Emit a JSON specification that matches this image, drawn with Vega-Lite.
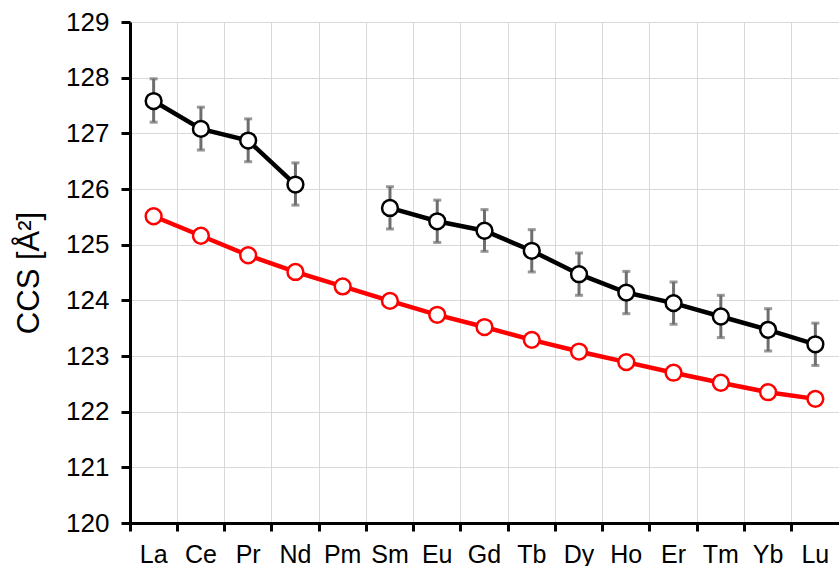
{
  "$schema": "https://vega.github.io/schema/vega-lite/v6.json",
  "width": 709,
  "height": 501,
  "autosize": "none",
  "padding": {"left": 130, "top": 22, "right": 0, "bottom": 43},
  "background": "white",
  "config": {
    "view": {"stroke": null},
    "axis": {
      "labelFont": "Liberation Sans",
      "titleFont": "Liberation Sans",
      "labelColor": "black",
      "titleColor": "black",
      "domainColor": "black",
      "domainWidth": 3,
      "tickColor": "black",
      "tickWidth": 3,
      "gridColor": "#d9d9d9",
      "gridWidth": 1
    }
  },
  "data": {
    "values": [
      {"el": "La", "series": "exp", "seg": "a", "v": 127.58, "lo": 127.2, "hi": 127.98},
      {"el": "Ce", "series": "exp", "seg": "a", "v": 127.08, "lo": 126.7, "hi": 127.47},
      {"el": "Pr", "series": "exp", "seg": "a", "v": 126.87, "lo": 126.49, "hi": 127.26},
      {"el": "Nd", "series": "exp", "seg": "a", "v": 126.08, "lo": 125.71, "hi": 126.47},
      {"el": "Sm", "series": "exp", "seg": "b", "v": 125.66, "lo": 125.28, "hi": 126.04},
      {"el": "Eu", "series": "exp", "seg": "b", "v": 125.42, "lo": 125.04, "hi": 125.8},
      {"el": "Gd", "series": "exp", "seg": "b", "v": 125.25, "lo": 124.88, "hi": 125.63},
      {"el": "Tb", "series": "exp", "seg": "b", "v": 124.89, "lo": 124.51, "hi": 125.27},
      {"el": "Dy", "series": "exp", "seg": "b", "v": 124.47, "lo": 124.09, "hi": 124.85},
      {"el": "Ho", "series": "exp", "seg": "b", "v": 124.14, "lo": 123.76, "hi": 124.52},
      {"el": "Er", "series": "exp", "seg": "b", "v": 123.95, "lo": 123.57, "hi": 124.33},
      {"el": "Tm", "series": "exp", "seg": "b", "v": 123.71, "lo": 123.33, "hi": 124.09},
      {"el": "Yb", "series": "exp", "seg": "b", "v": 123.47, "lo": 123.09, "hi": 123.85},
      {"el": "Lu", "series": "exp", "seg": "b", "v": 123.21, "lo": 122.83, "hi": 123.59},
      {"el": "La", "series": "calc", "seg": "c", "v": 125.51},
      {"el": "Ce", "series": "calc", "seg": "c", "v": 125.16},
      {"el": "Pr", "series": "calc", "seg": "c", "v": 124.81},
      {"el": "Nd", "series": "calc", "seg": "c", "v": 124.51},
      {"el": "Pm", "series": "calc", "seg": "c", "v": 124.25},
      {"el": "Sm", "series": "calc", "seg": "c", "v": 123.99},
      {"el": "Eu", "series": "calc", "seg": "c", "v": 123.74},
      {"el": "Gd", "series": "calc", "seg": "c", "v": 123.52},
      {"el": "Tb", "series": "calc", "seg": "c", "v": 123.29},
      {"el": "Dy", "series": "calc", "seg": "c", "v": 123.08},
      {"el": "Ho", "series": "calc", "seg": "c", "v": 122.89},
      {"el": "Er", "series": "calc", "seg": "c", "v": 122.7},
      {"el": "Tm", "series": "calc", "seg": "c", "v": 122.52},
      {"el": "Yb", "series": "calc", "seg": "c", "v": 122.35},
      {"el": "Lu", "series": "calc", "seg": "c", "v": 122.23}
    ]
  },
  "encoding": {
    "x": {
      "field": "el",
      "type": "nominal",
      "sort": ["La","Ce","Pr","Nd","Pm","Sm","Eu","Gd","Tb","Dy","Ho","Er","Tm","Yb","Lu"],
      "scale": {"domain": ["La","Ce","Pr","Nd","Pm","Sm","Eu","Gd","Tb","Dy","Ho","Er","Tm","Yb","Lu"], "paddingInner": 0, "paddingOuter": 0},
      "axis": {
        "title": null,
        "labelAngle": 0,
        "labelFontSize": 25,
        "labelPadding": 11,
        "tickSize": 8,
        "bandPosition": 0,
        "grid": true
      }
    }
  },
  "layer": [
    {
      "transform": [{"filter": "datum.series === 'exp'"}],
      "mark": {"type": "errorbar", "ticks": {"size": 8, "thickness": 3, "color": "#6e6e6e"}, "rule": {"strokeWidth": 3, "color": "#6e6e6e"}},
      "encoding": {
        "y": {"field": "lo", "type": "quantitative", "scale": {"domain": [120, 129], "nice": false, "zero": false},
          "axis": {"title": "CCS [Å²]", "format": "d", "titleFontSize": 31, "titleFontWeight": "normal", "titlePadding": 20, "labelFontSize": 26, "labelPadding": 12, "tickSize": 9, "values": [120,121,122,123,124,125,126,127,128,129], "grid": true}},
        "y2": {"field": "hi"}
      }
    },
    {
      "mark": {"type": "line", "strokeWidth": 4.5},
      "encoding": {
        "y": {"field": "v", "type": "quantitative"},
        "detail": {"field": "seg"},
        "color": {"field": "series", "type": "nominal", "scale": {"domain": ["exp", "calc"], "range": ["black", "#ff0000"]}, "legend": null}
      }
    },
    {
      "mark": {"type": "point", "shape": "circle", "filled": false, "fill": "white", "fillOpacity": 1, "size": 250, "strokeWidth": 2.5, "opacity": 1},
      "encoding": {
        "y": {"field": "v", "type": "quantitative"},
        "stroke": {"field": "series", "type": "nominal", "scale": {"domain": ["exp", "calc"], "range": ["black", "#ff0000"]}, "legend": null}
      }
    }
  ]
}
